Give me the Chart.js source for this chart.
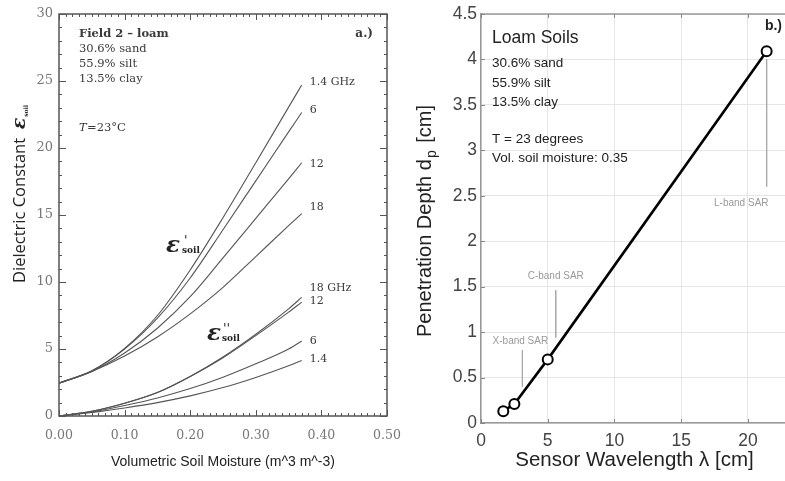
<!DOCTYPE html>
<html><head><meta charset="utf-8">
<script src="https://cdn.jsdelivr.net/npm/chart.js@4/dist/chart.umd.min.js"></script>
<style>
html,body{margin:0;padding:0;background:#fff;overflow:hidden;width:785px;height:481px;position:relative;}
#c1{position:absolute;left:0;top:0;}
#c2{position:absolute;left:395px;top:0;}
</style></head><body>
<canvas id="c1" width="420" height="481"></canvas>
<canvas id="c2" width="400" height="481"></canvas>
<script>
// ---------- Panel a: dielectric constant vs soil moisture ----------
const moisture     = [0, 0.05, 0.10, 0.15, 0.20, 0.25, 0.30, 0.35, 0.37];
const epsReal_1p4  = [2.45, 3.35, 5.05, 7.5, 10.9, 14.8, 18.9, 23.05, 24.7];
const epsReal_6    = [2.45, 3.38, 5.0, 7.3, 10.3, 13.9, 17.55, 21.2, 22.65];
const epsReal_12   = [2.45, 3.32, 4.7, 6.55, 8.9, 11.8, 14.75, 17.7, 18.9];
const epsReal_18   = [2.45, 3.33, 4.48, 5.9, 7.62, 9.6, 11.9, 14.2, 15.1];
const epsImag_18   = [0, 0.35, 0.95, 1.75, 2.95, 4.4, 6.1, 8.0, 8.85];
const epsImag_12   = [0, 0.35, 0.95, 1.75, 2.95, 4.35, 6.0, 7.75, 8.5];
const epsImag_6    = [0, 0.3, 0.78, 1.35, 2.05, 2.9, 3.9, 5.0, 5.6];
const epsImag_1p4  = [0, 0.26, 0.6, 1.0, 1.5, 2.12, 2.88, 3.75, 4.15];
const curveLabels  = ['1.4 GHz', '6', '12', '18', '18 GHz', '12', '6', '1.4'];
const ticksA_x = [0, 0.1, 0.2, 0.3, 0.4, 0.5];
const ticksA_y = [0, 5, 10, 15, 20, 25, 30];

// ---------- Panel b: penetration depth vs wavelength ----------
const wavelength = [1.67, 2.5, 5.0, 21.4];
const depth      = [0.13, 0.21, 0.70, 4.09];
const bandNames      = ['X-band SAR', 'C-band SAR', 'L-band SAR'];
const bandWavelength = [3.1, 5.6, 21.4];
const bandLineTop    = [0.8, 1.46, 4.0];
const bandLineBottom = [0.4, 0.94, 2.6];
const ticksB_x = [0, 5, 10, 15, 20];
const ticksB_y = [0, 0.5, 1, 1.5, 2, 2.5, 3, 3.5, 4, 4.5];

const serif = '"DejaVu Serif", serif';
const sans = '"Liberation Sans", Arial, sans-serif';

function pts(xs, ys){ return xs.map((v,i)=>({x:v, y:ys[i]})); }
function txt(ctx, s, x, y, font, color, align){
  ctx.font = font; ctx.fillStyle = color; ctx.textAlign = align||'left'; ctx.textBaseline='middle';
  ctx.fillText(s, x, y);
}
function seg(ctx,x1,y1,x2,y2){ ctx.beginPath(); ctx.moveTo(x1,y1); ctx.lineTo(x2,y2); ctx.stroke(); }

const seriesA = [epsReal_1p4, epsReal_6, epsReal_12, epsReal_18, epsImag_18, epsImag_12, epsImag_6, epsImag_1p4];
const labelDy = [-3, -2, 1.5, -6.5, -9, -1, 0, -1];

const leftDeco = {
  id:'leftDeco',
  afterDatasetsDraw(chart){
    const {ctx, chartArea:a, scales:{x,y}} = chart;
    ctx.save();
    ctx.strokeStyle='#555'; ctx.lineWidth=1;
    for (let i=0;i<=50;i++){
      const px = Math.round(x.getPixelForValue(i/100))+0.5;
      const L = i%10===0 ? 6 : 3;
      seg(ctx,px,a.bottom,px,a.bottom-L); seg(ctx,px,a.top,px,a.top+L);
    }
    for (let i=0;i<=30;i++){
      const py = Math.round(y.getPixelForValue(i))+0.5;
      const L = i%5===0 ? 7 : 3;
      seg(ctx,a.left,py,a.left+L,py); seg(ctx,a.right,py,a.right-L,py);
    }
    ctx.lineWidth=1.5; ctx.strokeStyle='#555';
    ctx.strokeRect(a.left, a.top, a.right-a.left, a.bottom-a.top);

    const c='#3a3a3a';
    txt(ctx,'Field 2 \u2013 loam',79,34,'bold 11.5px '+serif,c);
    txt(ctx,'30.6% sand',79,49,'11.5px '+serif,c);
    txt(ctx,'55.9% silt',79,64,'11.5px '+serif,c);
    txt(ctx,'13.5% clay',79,79,'11.5px '+serif,c);
    txt(ctx,'T',79,128,'italic 11.5px '+serif,c);
    txt(ctx,'=23\u00B0C',87,128,'11.5px '+serif,c);
    txt(ctx,'a.)',373,34,'bold 12px '+serif,c,'right');

    // curve end labels
    chart.data.datasets.forEach((ds,i)=>{
      const last = ds.data[ds.data.length-1];
      txt(ctx, curveLabels[i], x.getPixelForValue(last.x)+8, y.getPixelForValue(last.y)+labelDy[i], '11px '+serif, c);
    });

    // epsilon labels
    ctx.textBaseline='alphabetic'; ctx.textAlign='left'; ctx.fillStyle='#222';
    ctx.font='bold italic 23px '+serif; ctx.fillText('\u03B5',166,252);
    ctx.font='italic 13px '+serif; ctx.fillText("'",184,245);
    ctx.font='bold 9px '+serif; ctx.fillText('soil',182,253);
    ctx.font='bold italic 23px '+serif; ctx.fillText('\u03B5',207,340);
    ctx.font='italic 13px '+serif; ctx.fillText("''",223,333);
    ctx.font='bold 9px '+serif; ctx.fillText('soil',222,341);

    // y title
    ctx.save();
    ctx.translate(25,283); ctx.rotate(-Math.PI/2);
    ctx.fillStyle='#222'; ctx.textBaseline='alphabetic';
    ctx.font='16.5px "Open Sans", sans-serif';
    ctx.fillText('Dielectric Constant',0,0);
    let w = ctx.measureText('Dielectric Constant  ').width;
    ctx.font='bold italic 19px '+serif; ctx.fillText('\u03B5',w,0);
    w += ctx.measureText('\u03B5').width+1;
    ctx.font='bold 6px '+serif; ctx.fillText('soil',w,3);
    ctx.restore();
    ctx.restore();
  }
};

new Chart(document.getElementById('c1'), {
  type:'scatter',
  data:{ datasets: seriesA.map((s,i)=>({
    label: (i<4?"eps' ":"eps'' ")+curveLabels[i],
    data: pts(moisture, s), showLine:true, borderColor:'#555', borderWidth:1.1,
    pointRadius:0, cubicInterpolationMode:'monotone', fill:false }))},
  options:{
    responsive:false, animation:false, devicePixelRatio:1,
    layout:{padding:{top:14,right:33,left:0,bottom:0}},
    plugins:{legend:{display:false}, tooltip:{enabled:false}},
    scales:{
      x:{type:'linear', min:0, max:0.5,
         afterBuildTicks(s){ s.ticks = ticksA_x.map(v=>({value:v})); },
         afterFit(s){ s.height=65; s.paddingLeft=0; s.paddingRight=0; },
         grid:{display:false, drawTicks:false, tickLength:0}, border:{display:false},
         ticks:{padding:12, color:'#777', font:{family:'DejaVu Serif', size:12.5}, callback:v=>v.toFixed(2), maxRotation:0, autoSkip:false},
         title:{display:true, text:'Volumetric Soil Moisture (m^3 m^-3)', color:'#222', font:{family:'Liberation Sans', size:14}, padding:{top:0,bottom:10}}
      },
      y:{type:'linear', min:0, max:30,
         afterBuildTicks(s){ s.ticks = ticksA_y.map(v=>({value:v})); },
         afterFit(s){ s.width=59; s.paddingTop=0; s.paddingBottom=0; },
         grid:{display:false, drawTicks:false, tickLength:0}, border:{display:false},
         ticks:{padding:6, color:'#777', font:{family:'DejaVu Serif', size:13}, autoSkip:false}
      }
    }
  },
  plugins:[leftDeco]
});

const rightDeco = {
  id:'rightDeco',
  afterDatasetsDraw(chart){
    const {ctx, chartArea:a, scales:{x,y}} = chart;
    ctx.save();
    ctx.strokeStyle='#999'; ctx.lineWidth=1.5;
    seg(ctx,a.left,a.top,a.right,a.top);
    seg(ctx,a.right,a.top,a.right,a.bottom);
    ctx.lineWidth=1; ctx.strokeStyle='#888';
    ticksB_x.forEach(v=>{ const px=Math.round(x.getPixelForValue(v))+0.5; seg(ctx,px,a.bottom,px,a.bottom-4); seg(ctx,px,a.top,px,a.top+4); });
    ticksB_y.forEach(v=>{ const py=Math.round(y.getPixelForValue(v))+0.5; seg(ctx,a.left,py,a.left+4,py); });

    // band labels
    const lblX = [bandWavelength[0]-0.15, bandWavelength[1], bandWavelength[2]-1.9];
    const lblY = [bandLineTop[0]+0.1, bandLineTop[1]+0.15, bandLineBottom[2]-0.18];
    bandNames.forEach((n,i)=>txt(ctx,n,x.getPixelForValue(lblX[i]),y.getPixelForValue(lblY[i]),'10px '+sans,'#9a9a9a','center'));

    const c='#222';
    txt(ctx,'Loam Soils',97,38,'17.5px '+sans,c);
    txt(ctx,'30.6% sand',97,63,'13.5px '+sans,c);
    txt(ctx,'55.9% silt',97,83,'13.5px '+sans,c);
    txt(ctx,'13.5% clay',97,102,'13.5px '+sans,c);
    txt(ctx,'T = 23 degrees',97,139,'13.5px '+sans,c);
    txt(ctx,'Vol. soil moisture: 0.35',97,158,'13.5px '+sans,c);
    txt(ctx,'b.)',387,26,'bold 14px "Liberation Sans Narrow", '+sans,c,'right');

    // y title
    ctx.save();
    ctx.translate(36,337); ctx.rotate(-Math.PI/2);
    ctx.fillStyle='#222'; ctx.textBaseline='alphabetic'; ctx.textAlign='left';
    ctx.font='20px '+sans;
    ctx.fillText('Penetration Depth d',0,0);
    let w = ctx.measureText('Penetration Depth d').width+1;
    ctx.font='14px '+sans; ctx.fillText('p',w,5);
    w += ctx.measureText('p').width+2;
    ctx.font='20px '+sans; ctx.fillText(' [cm]',w,0);
    ctx.restore();
    ctx.restore();
  }
};

const bandSets = bandNames.map((n,i)=>({
  label:n, data:[{x:bandWavelength[i], y:bandLineTop[i]},{x:bandWavelength[i], y:bandLineBottom[i]}],
  showLine:true, borderColor:'#aaa', borderWidth:1, pointRadius:0, fill:false
}));

new Chart(document.getElementById('c2'), {
  type:'scatter',
  data:{ datasets:[
    { label:'Penetration depth', data: pts(wavelength, depth), showLine:true,
      borderColor:'#000', borderWidth:2.6, pointRadius:5, pointBorderWidth:2,
      pointBackgroundColor:'#fff', pointBorderColor:'#000', fill:false },
    ...bandSets
  ]},
  options:{
    responsive:false, animation:false, devicePixelRatio:1,
    layout:{padding:{top:14,right:2.4,left:0,bottom:0}},
    plugins:{legend:{display:false}, tooltip:{enabled:false}},
    scales:{
      x:{type:'linear', min:0, max:23,
         afterBuildTicks(s){ s.ticks = ticksB_x.map(v=>({value:v})); },
         afterFit(s){ s.height=58; s.paddingLeft=0; s.paddingRight=0; },
         grid:{color:'#e6e6e6', drawTicks:false, tickLength:0}, border:{display:true, color:'#999', width:1.5},
         ticks:{padding:8, color:'#444', font:{family:'Liberation Sans', size:17.5}, maxRotation:0, autoSkip:false},
         title:{display:true, text:'Sensor Wavelength \u03BB [cm]', color:'#222', font:{family:'Liberation Sans', size:20.5}, padding:{top:0,bottom:8}}
      },
      y:{type:'linear', min:0, max:4.5,
         afterBuildTicks(s){ s.ticks = ticksB_y.map(v=>({value:v})); },
         afterFit(s){ s.width=86; s.paddingTop=0; s.paddingBottom=0; },
         grid:{color:'#e6e6e6', drawTicks:false, tickLength:0}, border:{display:true, color:'#999', width:1.5},
         ticks:{padding:4, color:'#444', font:{family:'Liberation Sans', size:17.5}, autoSkip:false, callback:v=>String(v)}
      }
    }
  },
  plugins:[rightDeco]
});
</script>
</body></html>
